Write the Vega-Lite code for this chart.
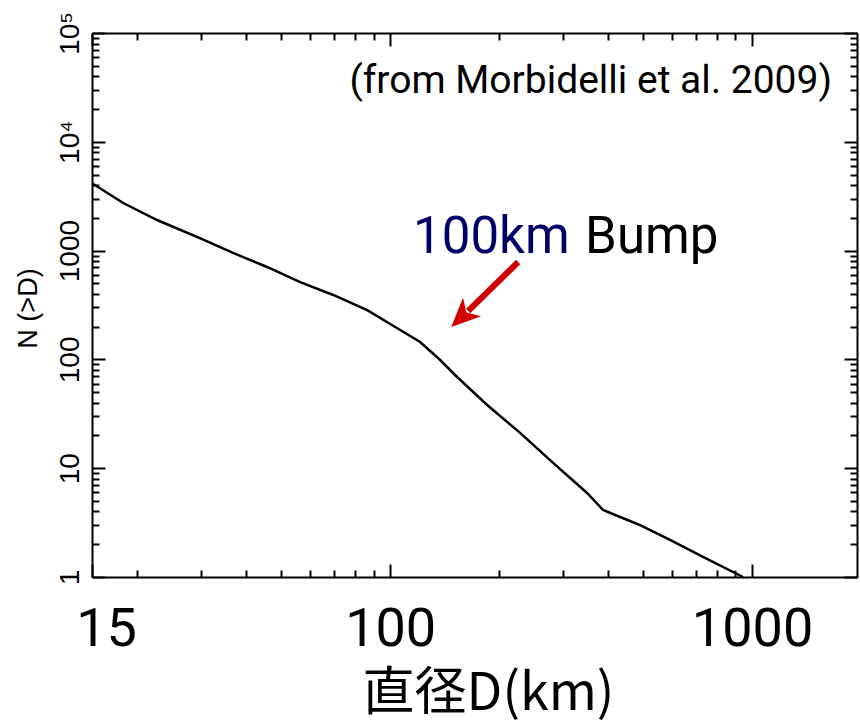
{
  "$schema": "https://vega.github.io/schema/vega-lite/v6.json",
  "width": 765,
  "height": 544,
  "autosize": {"type": "none"},
  "padding": {"left": 92, "top": 33, "right": 3, "bottom": 151},
  "background": "white",
  "config": {
    "view": {"stroke": null},
    "axis": {"domainColor": "black", "domainWidth": 2, "tickColor": "black", "tickWidth": 2, "grid": false, "labelColor": "black", "titleColor": "black"}
  },
  "resolve": {"axis": {"x": "independent", "y": "independent"}},
  "layer": [
    {
      "data": {"name": "curve", "values": [
        {"D": 15, "N": 4155},
        {"D": 18.3, "N": 2738},
        {"D": 22.7, "N": 1911},
        {"D": 29.9, "N": 1298},
        {"D": 36.8, "N": 951},
        {"D": 45.7, "N": 707},
        {"D": 56.4, "N": 514},
        {"D": 69.6, "N": 391},
        {"D": 86.4, "N": 284},
        {"D": 106.6, "N": 186.3},
        {"D": 121.0, "N": 144.5},
        {"D": 137.5, "N": 98.7},
        {"D": 153.1, "N": 68.9},
        {"D": 185.4, "N": 38.1},
        {"D": 228.6, "N": 21.1},
        {"D": 282.0, "N": 11.2},
        {"D": 350.1, "N": 5.92},
        {"D": 387.6, "N": 4.13},
        {"D": 431.9, "N": 3.56},
        {"D": 490.6, "N": 3.0},
        {"D": 593.5, "N": 2.19},
        {"D": 732, "N": 1.53},
        {"D": 944, "N": 1.0}
      ]},
      "mark": {"type": "line", "color": "black", "strokeWidth": 2.5},
      "encoding": {
        "x": {
          "field": "D", "type": "quantitative",
          "scale": {"type": "log", "domain": [15, 1950], "nice": false},
          "axis": {
            "orient": "bottom",
            "values": [15, 20, 30, 40, 50, 60, 70, 80, 90, 100, 200, 300, 400, 500, 600, 700, 800, 900, 1000],
            "tickSize": {"condition": {"test": "datum.value == 15 || datum.value == 100 || datum.value == 1000", "value": -13}, "value": -7},
            "labelExpr": "datum.value == 15 ? '15' : datum.value == 100 ? '100' : datum.value == 1000 ? '1000' : ''",
            "labelFont": "Roboto",
            "labelFontSize": 54,
            "labelPadding": 81,
            "labelBaseline": "alphabetic",
            "labelOverlap": false,
            "labelFlush": false,
            "labelBound": false,
            "labelOffset": {"condition": {"test": "datum.value == 15", "value": 14}, "value": 0},
            "title": "直径D(km)",
            "titleFont": "Noto Sans CJK JP",
            "titleFontSize": 52,
            "titleFontWeight": "normal",
            "titleX": 396,
            "titleY": 132,
            "titleAlign": "center",
            "titleBaseline": "alphabetic"
          }
        },
        "y": {
          "field": "N", "type": "quantitative",
          "scale": {"type": "log", "domain": [1, 100000], "nice": false},
          "axis": {
            "orient": "left",
            "values": [1, 2, 3, 4, 5, 6, 7, 8, 9, 10, 20, 30, 40, 50, 60, 70, 80, 90, 100, 200, 300, 400, 500, 600, 700, 800, 900, 1000, 2000, 3000, 4000, 5000, 6000, 7000, 8000, 9000, 10000, 20000, 30000, 40000, 50000, 60000, 70000, 80000, 90000, 100000],
            "tickSize": {"condition": {"test": "indexof([1, 10, 100, 1000, 10000, 100000], datum.value) >= 0", "value": -13}, "value": -7},
            "labelExpr": "datum.value == 1 ? '1' : datum.value == 10 ? '10' : datum.value == 100 ? '100' : datum.value == 1000 ? '1000' : datum.value == 10000 ? '10⁴' : datum.value == 100000 ? '10⁵' : ''",
            "labelAngle": 270,
            "labelAlign": "center",
            "labelBaseline": "bottom",
            "labelFont": "Liberation Sans",
            "labelFontSize": 28,
            "labelPadding": 21,
            "labelOverlap": false,
            "labelFlush": false,
            "labelBound": false,
            "title": "N (>D)",
            "titleFont": "Liberation Sans",
            "titleFontSize": 27,
            "titleFontWeight": "normal",
            "titleAngle": 270,
            "titleX": -56,
            "titleY": 275,
            "titleAlign": "center",
            "titleBaseline": "alphabetic"
          }
        }
      }
    },
    {
      "data": {"name": "curve"},
      "mark": {"type": "line", "color": "black", "strokeOpacity": 0},
      "encoding": {
        "x": {
          "field": "D", "type": "quantitative",
          "scale": {"type": "log", "domain": [15, 1950], "nice": false},
          "axis": {
            "orient": "top",
            "values": [15, 20, 30, 40, 50, 60, 70, 80, 90, 100, 200, 300, 400, 500, 600, 700, 800, 900, 1000],
            "tickSize": {"condition": {"test": "datum.value == 15 || datum.value == 100 || datum.value == 1000", "value": -13}, "value": -7},
            "labels": false,
            "title": null
          }
        },
        "y": {
          "field": "N", "type": "quantitative",
          "scale": {"type": "log", "domain": [1, 100000], "nice": false},
          "axis": {
            "orient": "right",
            "values": [1, 2, 3, 4, 5, 6, 7, 8, 9, 10, 20, 30, 40, 50, 60, 70, 80, 90, 100, 200, 300, 400, 500, 600, 700, 800, 900, 1000, 2000, 3000, 4000, 5000, 6000, 7000, 8000, 9000, 10000, 20000, 30000, 40000, 50000, 60000, 70000, 80000, 90000, 100000],
            "tickSize": {"condition": {"test": "indexof([1, 10, 100, 1000, 10000, 100000], datum.value) >= 0", "value": -13}, "value": -7},
            "labels": false,
            "title": null
          }
        }
      }
    },
    {
      "data": {"values": [{"D": 1663, "N": 28090, "label": "(from Morbidelli et al. 2009)"}]},
      "mark": {"type": "text", "align": "right", "baseline": "alphabetic", "font": "Roboto", "fontSize": 39, "color": "black"},
      "encoding": {
        "x": {"field": "D", "type": "quantitative", "scale": {"type": "log", "domain": [15, 1950], "nice": false}, "axis": null},
        "y": {"field": "N", "type": "quantitative", "scale": {"type": "log", "domain": [1, 100000], "nice": false}, "axis": null},
        "text": {"field": "label"}
      }
    },
    {
      "data": {"values": [{"D": 115.7, "N": 950, "label": "100km"}]},
      "mark": {"type": "text", "align": "left", "baseline": "alphabetic", "font": "Roboto", "fontSize": 51, "color": "#000066"},
      "encoding": {
        "x": {"field": "D", "type": "quantitative", "scale": {"type": "log", "domain": [15, 1950], "nice": false}, "axis": null},
        "y": {"field": "N", "type": "quantitative", "scale": {"type": "log", "domain": [1, 100000], "nice": false}, "axis": null},
        "text": {"field": "label"}
      }
    },
    {
      "data": {"values": [{"D": 345.7, "N": 950, "label": "Bump"}]},
      "mark": {"type": "text", "align": "left", "baseline": "alphabetic", "font": "Roboto", "fontSize": 51, "color": "black"},
      "encoding": {
        "x": {"field": "D", "type": "quantitative", "scale": {"type": "log", "domain": [15, 1950], "nice": false}, "axis": null},
        "y": {"field": "N", "type": "quantitative", "scale": {"type": "log", "domain": [1, 100000], "nice": false}, "axis": null},
        "text": {"field": "label"}
      }
    },
    {
      "data": {"values": [{"D": 225.8, "N": 785.6, "D2": 164.3, "N2": 278.5}]},
      "mark": {"type": "rule", "color": "#d00000", "strokeWidth": 6},
      "encoding": {
        "x": {"field": "D", "type": "quantitative", "scale": {"type": "log", "domain": [15, 1950], "nice": false}, "axis": null},
        "y": {"field": "N", "type": "quantitative", "scale": {"type": "log", "domain": [1, 100000], "nice": false}, "axis": null},
        "x2": {"field": "D2"},
        "y2": {"field": "N2"}
      }
    },
    {
      "data": {"values": [{"D": 157.6, "N": 245.3}]},
      "mark": {"type": "point", "shape": "M0,-1L0.9,1L0,0.45L-0.9,1Z", "size": 841, "angle": 226, "filled": true, "color": "#d00000", "opacity": 1, "strokeWidth": 0},
      "encoding": {
        "x": {"field": "D", "type": "quantitative", "scale": {"type": "log", "domain": [15, 1950], "nice": false}, "axis": null},
        "y": {"field": "N", "type": "quantitative", "scale": {"type": "log", "domain": [1, 100000], "nice": false}, "axis": null}
      }
    }
  ]
}
